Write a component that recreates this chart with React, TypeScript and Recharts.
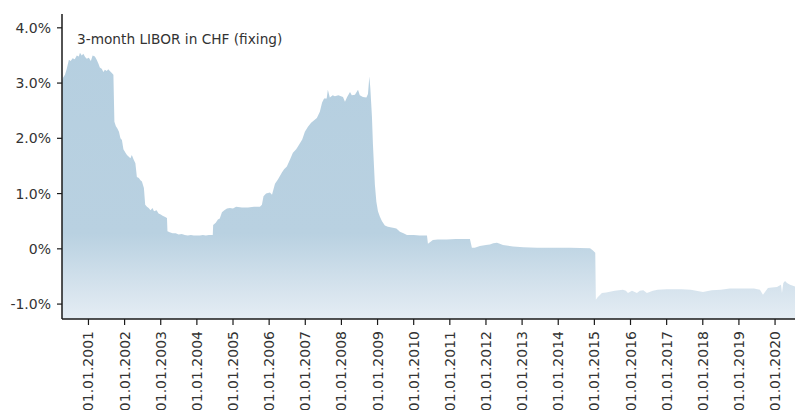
import React from 'react';
import { AreaChart, Area, XAxis, YAxis } from 'recharts';

const dates: string[] = [
  '2000-04-08', '2000-04-20', '2000-05-08', '2000-05-25', '2000-06-17', '2000-07-05', '2000-07-25', '2000-08-15',
  '2000-09-05', '2000-09-25', '2000-10-07', '2000-10-25', '2000-11-10', '2000-11-28', '2000-12-15',
  '2001-01-05', '2001-01-25', '2001-02-12', '2001-03-07', '2001-03-25', '2001-04-12', '2001-04-26', '2001-05-15',
  '2001-06-01', '2001-06-16', '2001-07-05', '2001-07-20', '2001-08-05', '2001-08-25', '2001-09-10', '2001-09-20',
  '2001-10-05', '2001-10-20', '2001-11-05', '2001-11-20', '2001-12-05', '2001-12-20',
  '2002-01-10', '2002-01-25', '2002-02-15', '2002-03-01', '2002-03-15', '2002-04-01', '2002-04-20', '2002-05-05',
  '2002-05-25', '2002-06-10', '2002-06-25', '2002-07-15', '2002-07-28', '2002-08-15', '2002-09-01', '2002-09-20',
  '2002-10-10', '2002-10-25', '2002-11-20', '2002-12-10',
  '2003-01-01', '2003-01-20', '2003-02-10', '2003-03-05', '2003-03-10', '2003-04-01', '2003-05-01', '2003-06-01',
  '2003-07-01', '2003-08-01', '2003-09-01', '2003-10-01', '2003-11-01', '2003-12-01',
  '2004-01-01', '2004-02-01', '2004-03-01', '2004-04-01', '2004-05-01', '2004-06-10', '2004-06-14', '2004-07-10',
  '2004-08-01', '2004-08-20', '2004-09-11', '2004-10-05', '2004-11-01', '2004-12-01',
  '2005-01-01', '2005-02-01', '2005-04-01', '2005-06-01', '2005-08-01', '2005-09-30', '2005-10-20', '2005-11-05',
  '2005-12-01',
  '2006-01-09', '2006-01-30', '2006-03-01', '2006-04-01', '2006-05-10', '2006-06-01', '2006-06-29', '2006-08-01',
  '2006-08-29', '2006-10-01', '2006-10-19', '2006-12-01', '2006-12-28',
  '2007-01-28', '2007-03-01', '2007-04-28', '2007-05-28', '2007-06-20', '2007-07-10', '2007-08-05', '2007-08-17',
  '2007-09-06', '2007-10-05', '2007-10-27', '2007-12-01',
  '2008-01-17', '2008-02-06', '2008-02-28', '2008-03-28', '2008-04-15', '2008-05-17', '2008-06-17', '2008-07-05',
  '2008-08-06', '2008-09-10', '2008-09-26', '2008-10-10', '2008-10-20', '2008-11-05', '2008-11-15', '2008-12-05',
  '2008-12-20',
  '2009-01-05', '2009-01-25', '2009-02-15', '2009-03-16', '2009-04-15', '2009-06-05', '2009-07-10', '2009-08-15',
  '2009-09-20', '2009-10-25',
  '2010-01-01', '2010-03-01', '2010-05-15', '2010-05-25', '2010-07-14', '2010-09-01', '2010-12-01',
  '2011-03-01', '2011-05-01', '2011-07-23', '2011-08-12', '2011-09-10', '2011-11-01',
  '2012-01-01', '2012-02-10', '2012-03-15', '2012-04-21', '2012-05-20', '2012-06-21', '2012-10-01',
  '2013-01-15', '2013-06-01', '2014-01-01', '2014-04-30', '2014-11-18', '2014-12-18',
  '2015-01-10', '2015-01-16', '2015-02-01', '2015-03-18', '2015-05-01', '2015-07-01', '2015-07-27', '2015-10-16',
  '2015-11-15', '2015-12-06',
  '2016-01-16', '2016-03-06', '2016-04-05', '2016-05-10', '2016-06-15', '2016-08-15', '2016-10-01',
  '2017-01-01', '2017-04-01', '2017-06-01', '2017-09-01',
  '2018-01-03', '2018-04-01', '2018-07-01', '2018-10-01',
  '2019-01-12', '2019-04-01', '2019-06-01', '2019-08-01', '2019-09-01', '2019-10-21', '2019-12-01',
  '2020-01-21', '2020-03-01', '2020-03-11', '2020-03-25', '2020-04-11', '2020-05-01', '2020-06-01', '2020-07-21',
];

const liborValues: number[] = [
  3.05, 3.10, 3.15, 3.25, 3.42, 3.40, 3.45, 3.43,
  3.50, 3.48, 3.55, 3.50, 3.53, 3.47, 3.44,
  3.46, 3.40, 3.50, 3.48, 3.42, 3.35, 3.28, 3.26,
  3.20, 3.24, 3.22, 3.25, 3.22, 3.18, 3.15, 2.30,
  2.22, 2.18, 2.12, 2.00, 1.97, 1.80,
  1.74, 1.70, 1.66, 1.64, 1.70, 1.62, 1.55, 1.30,
  1.28, 1.24, 1.22, 1.10, 0.80, 0.76, 0.74, 0.70,
  0.74, 0.68, 0.70, 0.64,
  0.62, 0.60, 0.58, 0.56, 0.32, 0.30, 0.28, 0.28,
  0.26, 0.27, 0.25, 0.24, 0.25, 0.24,
  0.24, 0.24, 0.25, 0.24, 0.25, 0.25, 0.43, 0.47,
  0.53, 0.55, 0.66, 0.70, 0.73, 0.74,
  0.73, 0.76, 0.75, 0.75, 0.76, 0.76, 0.80, 0.95,
  1.00,
  1.02, 0.98, 1.18, 1.26, 1.38, 1.44, 1.49, 1.62,
  1.74, 1.80, 1.85, 1.98, 2.12,
  2.21, 2.28, 2.37, 2.48, 2.65, 2.72, 2.72, 2.88,
  2.74, 2.78, 2.76, 2.78,
  2.75, 2.66, 2.75, 2.84, 2.78, 2.79, 2.88, 2.78,
  2.75, 2.74, 2.80, 3.12, 2.90, 2.40, 1.90, 1.16,
  0.85,
  0.68, 0.58, 0.50, 0.42, 0.40, 0.38, 0.37, 0.31,
  0.28, 0.25,
  0.25, 0.24, 0.24, 0.09, 0.16, 0.17, 0.17,
  0.18, 0.18, 0.18, 0.02, 0.02, 0.05,
  0.07, 0.08, 0.10, 0.11, 0.09, 0.07, 0.04,
  0.03, 0.02, 0.02, 0.02, 0.01, -0.03,
  -0.07, -0.92, -0.88, -0.80, -0.79, -0.77, -0.76, -0.74,
  -0.76, -0.80,
  -0.76, -0.80, -0.76, -0.75, -0.80, -0.76, -0.74,
  -0.73, -0.73, -0.73, -0.74,
  -0.78, -0.75, -0.74, -0.72,
  -0.72, -0.72, -0.72, -0.74, -0.83, -0.71, -0.70,
  -0.69, -0.65, -0.80, -0.62, -0.58, -0.62, -0.65, -0.68,
];

const yearTicks: number[] = [
  2001, 2002, 2003, 2004, 2005, 2006, 2007, 2008, 2009, 2010,
  2011, 2012, 2013, 2014, 2015, 2016, 2017, 2018, 2019, 2020,
];
const percentTicks: number[] = [-1, 0, 1, 2, 3, 4];

const title = '3-month LIBOR in CHF (fixing)';

function toYear(s: string): number {
  const [y, m, d] = s.split('-').map(Number);
  const start = Date.UTC(y, 0, 1);
  const end = Date.UTC(y + 1, 0, 1);
  return y + (Date.UTC(y, m - 1, d) - start) / (end - start);
}

const data = dates.map((d, i) => ({ t: toYear(d), v: liborValues[i] }));

const FONT = '"DejaVu Sans", sans-serif';
const TEXT = '#333333';
const AXIS = '#1a1a1a';

const XTick = (props: any) => {
  const { x, y, payload } = props;
  const label = '01.01.' + payload.value;
  const ty = y + 4;
  return (
    <text
      x={x}
      y={ty}
      transform={`rotate(-90, ${x}, ${ty})`}
      textAnchor="end"
      dy="0.36em"
      fill={TEXT}
      fontSize={14}
      fontFamily={FONT}
    >
      {label}
    </text>
  );
};

const fmtY = (v: number) => (v === 0 ? '0%' : v.toFixed(1) + '%');

export default function App() {
  return (
    <div style={{ position: 'absolute', left: 0, top: 0, width: 795, height: 410, background: '#fff' }}>
      <AreaChart width={795} height={410} data={data} margin={{ top: 14, right: 0, bottom: 0, left: 0 }}>
        <defs>
          <linearGradient id="liborFill" gradientUnits="userSpaceOnUse" x1="0" y1="14" x2="0" y2="319">
            <stop offset="0" stopColor="#b5cfe0" />
            <stop offset="0.72" stopColor="#b9d1e1" />
            <stop offset="1" stopColor="#e5edf4" />
          </linearGradient>
        </defs>
        <XAxis
          dataKey="t"
          type="number"
          domain={['dataMin', 'dataMax']}
          ticks={yearTicks}
          interval={0}
          height={91}
          tick={<XTick />}
          tickSize={6}
          tickMargin={2}
          axisLine={{ stroke: AXIS, strokeWidth: 1.5 }}
          tickLine={{ stroke: AXIS, strokeWidth: 1.2 }}
        />
        <YAxis
          type="number"
          domain={[-1.27, 4.25]}
          ticks={percentTicks}
          interval={0}
          width={62}
          tickFormatter={fmtY}
          tickSize={5}
          tickMargin={6}
          tick={{ fill: TEXT, fontSize: 14, fontFamily: FONT }}
          axisLine={{ stroke: AXIS, strokeWidth: 1.5 }}
          tickLine={{ stroke: AXIS, strokeWidth: 1.2 }}
        />
        <Area
          dataKey="v"
          type="linear"
          stroke="none"
          fill="url(#liborFill)"
          fillOpacity={1}
          baseValue="dataMin"
          isAnimationActive={false}
          dot={false}
          activeDot={false}
        />
      </AreaChart>
      <div
        style={{
          position: 'absolute',
          left: 77,
          top: 32,
          fontFamily: FONT,
          fontSize: 13.7,
          lineHeight: '15px',
          color: TEXT,
          whiteSpace: 'nowrap',
        }}
      >
        {title}
      </div>
    </div>
  );
}
